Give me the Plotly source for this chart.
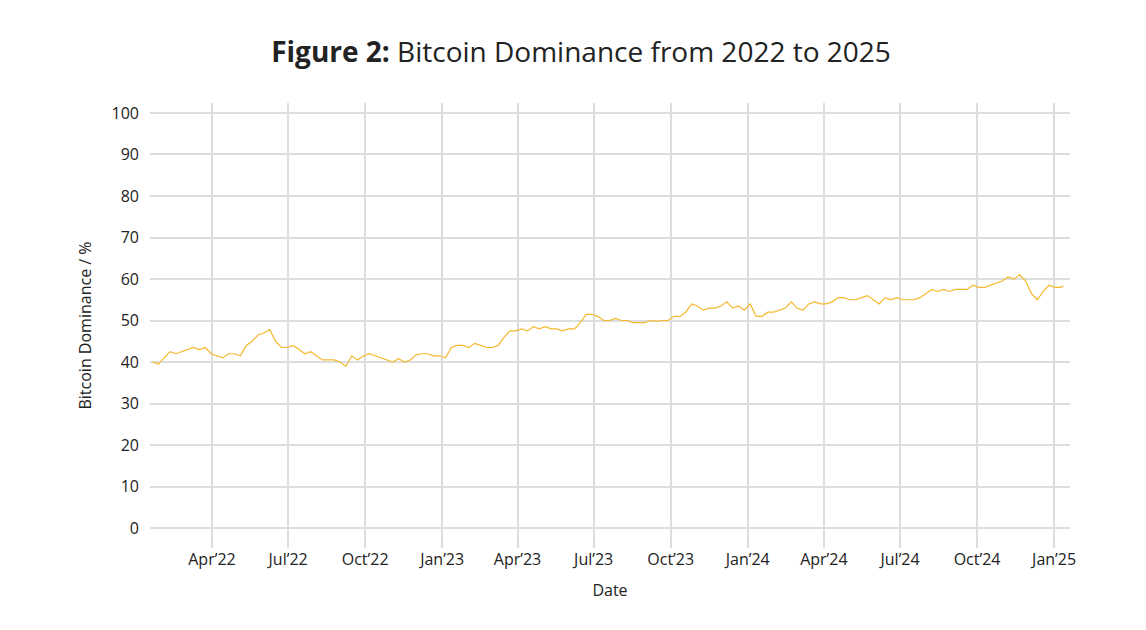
import plotly.graph_objects as go
import pandas as pd

start_date = "2022-01-20"
dominance = [40,39.5,41,42.5,42,42.5,43,43.5,43,43.5,42,41.5,41,42,42,41.5,44,45,46.5,47,47.8,45,43.5,43.5,44,43,42,42.5,41.5,40.5,40.5,40.5,40,39,41.5,40.5,41.5,42,41.5,41,40.5,40,40.8,40,40.5,41.8,42,42,41.5,41.5,
41,43.5,44,44,43.5,44.5,44,43.5,43.5,44,46,47.5,47.5,48,47.5,48.5,48,48.5,48,48,47.5,48,48,49.5,51.5,51.5,51,50,50,50.5,50,50,49.5,49.5,49.5,50,49.8,50,50,51,51,52,54,53.5,52.5,53,53,53.5,54.5,53,53.5,52.5,
54,51,51,52,52,52.5,53,54.5,53,52.5,54,54.5,54,54,54.5,55.5,55.5,55,55,55.5,56,55,54,55.5,55,55.5,55,55,55,55.5,56.5,57.5,57,57.5,57,57.5,57.5,57.5,58.5,58,58,58.5,59,59.5,60.5,60,61,59.5,56.5,55,57,58.5,58,58,58.3]
dates = list(pd.date_range(start_date, periods=len(dominance)-1, freq="7D")) + [pd.Timestamp("2025-01-12")]

tick_vals = ["2022-04-01","2022-07-01","2022-10-01","2023-01-01","2023-04-01","2023-07-01","2023-10-01","2024-01-01","2024-04-01","2024-07-01","2024-10-01","2025-01-01"]
tick_text = ["Apr’22","Jul’22","Oct’22","Jan’23","Apr’23","Jul’23","Oct’23","Jan’24","Apr’24","Jul’24","Oct’24","Jan’25"]

fig = go.Figure(go.Scatter(x=dates, y=dominance, mode="lines", line=dict(color="#F5B82E", width=1.2)))
fig.update_layout(
    width=1146, height=630, plot_bgcolor="white", paper_bgcolor="white",
    font=dict(family="Open Sans, Noto Sans", size=16, color="#222"),
    title=dict(text="<b>Figure 2:</b> Bitcoin Dominance from 2022 to 2025", x=0.5, xanchor="center", y=0.93, yanchor="middle", font=dict(size=28, color="#222")),
    margin=dict(l=142, r=84, t=95, b=90), showlegend=False,
)
fig.update_xaxes(range=["2022-01-17","2025-01-20"], tickvals=tick_vals, ticktext=tick_text, showgrid=True, gridcolor="#dddddd", gridwidth=2,
                 title=dict(text="Date", font=dict(size=16)), ticks="", zeroline=False)
fig.update_yaxes(range=[-4.8, 102.4], tickvals=list(range(0,101,10)), showgrid=True, gridcolor="#dddddd", gridwidth=1.5,
                 title=dict(text="Bitcoin Dominance / %", font=dict(size=16)), zeroline=False, ticklabelstandoff=10)
fig.write_html("out.html")
